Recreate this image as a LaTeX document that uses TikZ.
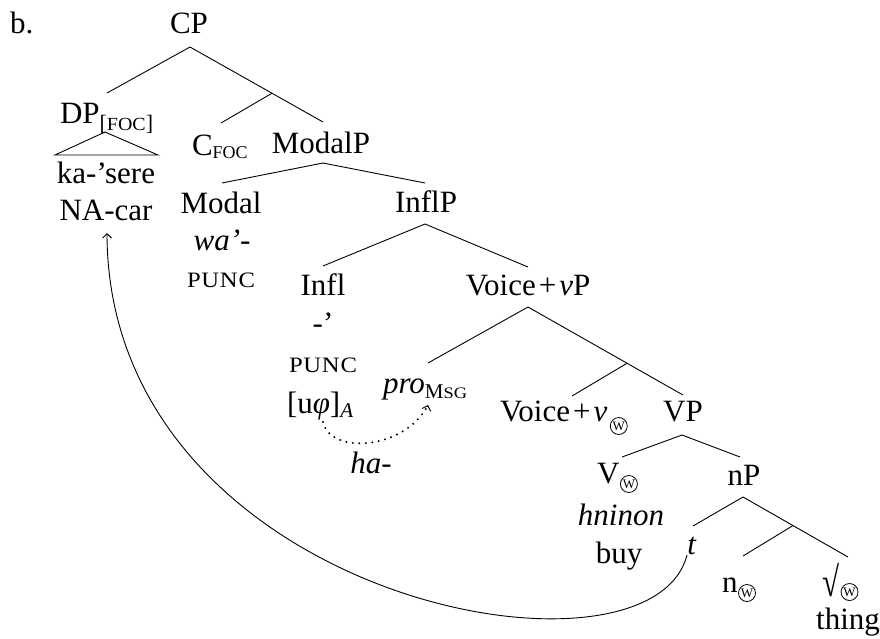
\documentclass[tikz,border=0pt]{standalone}
\usepackage{fontspec}
\usepackage{graphicx}
\setmainfont{Liberation Serif}
\usetikzlibrary{arrows.meta,calc}
\newcommand\smc[1]{\scalebox{1.12}[1]{\fontsize{22}{22}\selectfont\addfontfeature{LetterSpace=3}#1}}
\newcommand\plusx{\hspace{3pt}+\hspace{3pt}}
\begin{document}
\begin{tikzpicture}[x=1pt,y=-1pt,
  every node/.style={inner sep=0pt,outer sep=0pt,font=\fontsize{31}{37}\selectfont},
  lbl/.style={anchor=base},
  lblw/.style={anchor=base west},
  wcirc/.style={circle,draw,line width=0.8pt,minimum size=17pt,inner sep=0pt,anchor=west,font=\fontsize{13}{13}\selectfont},
  edge/.style={line width=0.9pt},
  tip/.style={-{Straight Barb[length=4.5pt,width=9pt,line width=0.9pt]}},
  dotline/.style={line width=2.2pt,line cap=round,dash pattern=on 0pt off 6.5pt}]
\useasboundingbox (0,0) rectangle (880,638);
% labels
\node[lblw] (b) at (10,33) {b.};
\node[lbl] (cp) at (189,33) {CP};
\node[lblw] (dp) at (60,123) {DP\raisebox{-7pt}{\fontsize{22}{22}\selectfont[{\fontsize{18.5}{18.5}\selectfont\scalebox{1.08}[1]{FOC}}]}};
\node[lblw] (cfoc) at (192,155) {C\raisebox{-3pt}{\fontsize{18}{18}\selectfont FOC}};
\node[lbl] (modalp) at (321,153) {ModalP};
\node[lbl] (ka) at (106,183) {ka-’sere};
\node[lbl] (na) at (106,220) {NA-car};
\node[lbl] (modal) at (221,213) {Modal};
\node[lbl] (wa) at (222,250) {\textit{wa’-}};
\node[lbl] (punc1) at (221,287) {\smc{PUNC}};
\node[lbl] (inflp) at (426,212) {InflP};
\node[lbl] (infl) at (323,295) {Infl};
\node[lbl] (infla) at (323,333) {-’};
\node[lbl] (punc2) at (323,372) {\smc{PUNC}};
\node[lblw] (uphi) at (287,413) {[u\textit{φ}]\raisebox{-4pt}{\fontsize{21}{21}\selectfont\textit{A}}};
\node[lblw] (pro) at (383,393) {\textit{pro}\raisebox{-5pt}{\fontsize{21}{21}\selectfont M\fontsize{16}{16}\selectfont\scalebox{1.15}[1]{SG}}};
\node[lbl] (ha) at (371,473) {\textit{ha-}};
\node[lbl] (voicevp) at (528,295) {Voice\plusx\textit{v}P};
\node[lblw] (voicev) at (500,421) {Voice\plusx\textit{v}};
\node[wcirc] (voicevw) at ([shift={(3,5)}]voicev.base east) {W};
\node[lbl] (vp) at (683,421) {VP};
\node[lblw] (v) at (597,483) {V};
\node[wcirc] (vw) at ([shift={(1,1)}]v.base east) {W};
\node[lbl] (hninon) at (621,525) {\textit{hninon}};
\node[lbl] (buy) at (619,563) {buy};
\node[lbl] (np) at (744,485) {nP};
\node[lbl] (t) at (692,554) {\textit{t}};
\node[lblw] (n) at (722,592) {n};
\node[wcirc] (nw) at ([shift={(1,1)}]n.base east) {W};
\node[lblw] (root) at (822,596) {\scalebox{1}[1.35]{√}};
\node[wcirc] (rootw) at ([shift={(2,-4)}]root.base east) {W};
\node[lbl] (thing) at (848,629) {thing};
% tree coordinates
\coordinate (cp-b) at (190,47);
\coordinate (dp-t) at (107,93);
\coordinate (mp-t) at (323,122);
\coordinate (cbar) at ($(cp-b)!0.6165!(mp-t)$);
\coordinate (c-t) at (221,123);
\coordinate (dp-b) at (105,132);
\coordinate (tri-l) at (55,155);
\coordinate (tri-r) at (158,155);
\coordinate (mp-b) at (323,163);
\coordinate (modal-t) at (222,183);
\coordinate (inflp-t) at (425,183);
\coordinate (inflp-b) at (425,224);
\coordinate (infl-t) at (323,266);
\coordinate (vvp-t) at (528,267);
\coordinate (vvp-b) at (528,307);
\coordinate (pro-t) at (428,363);
\coordinate (vp-t) at (683,395);
\coordinate (vbar) at ($(vvp-b)!0.639!(vp-t)$);
\coordinate (vv-t) at (572,396);
\coordinate (vp-b) at (682,435);
\coordinate (v-t) at (622,457);
\coordinate (np-t) at (740,457);
\coordinate (np-b) at (743,497);
\coordinate (t-t) at (693,526);
\coordinate (root-t) at (848,557);
\coordinate (nbar) at ($(np-b)!0.476!(root-t)$);
\coordinate (n-t) at (743,556);
\coordinate (phi-b) at (323,422);
\coordinate (pro-b) at (428,405);
\coordinate (t-l) at (687,555);
\coordinate (na-b) at (107,233);
% edges
\draw[edge] (cp-b) -- (dp-t);
\draw[edge] (cp-b) -- (mp-t);
\draw[edge] (cbar) -- (c-t);
\draw[edge] (dp-b) -- (tri-l) -- (tri-r) -- cycle;
\draw[edge] (mp-b) -- (modal-t);
\draw[edge] (mp-b) -- (inflp-t);
\draw[edge] (inflp-b) -- (infl-t);
\draw[edge] (inflp-b) -- (vvp-t);
\draw[edge] (vvp-b) -- (pro-t);
\draw[edge] (vvp-b) -- (vp-t);
\draw[edge] (vbar) -- (vv-t);
\draw[edge] (vp-b) -- (v-t);
\draw[edge] (vp-b) -- (np-t);
\draw[edge] (np-b) -- (t-t);
\draw[edge] (np-b) -- (root-t);
\draw[edge] (nbar) -- (n-t);
% arrows
\draw[dotline] (phi-b) .. controls (330,455) and (405,450) .. (pro-b);
\draw[edge,tip] ($(pro-b)+(-0.5,1.5)$) -- (pro-b);
\draw[edge,tip] (t-l) .. controls (650,700) and (108,600) .. (na-b);
\end{tikzpicture}
\end{document}
